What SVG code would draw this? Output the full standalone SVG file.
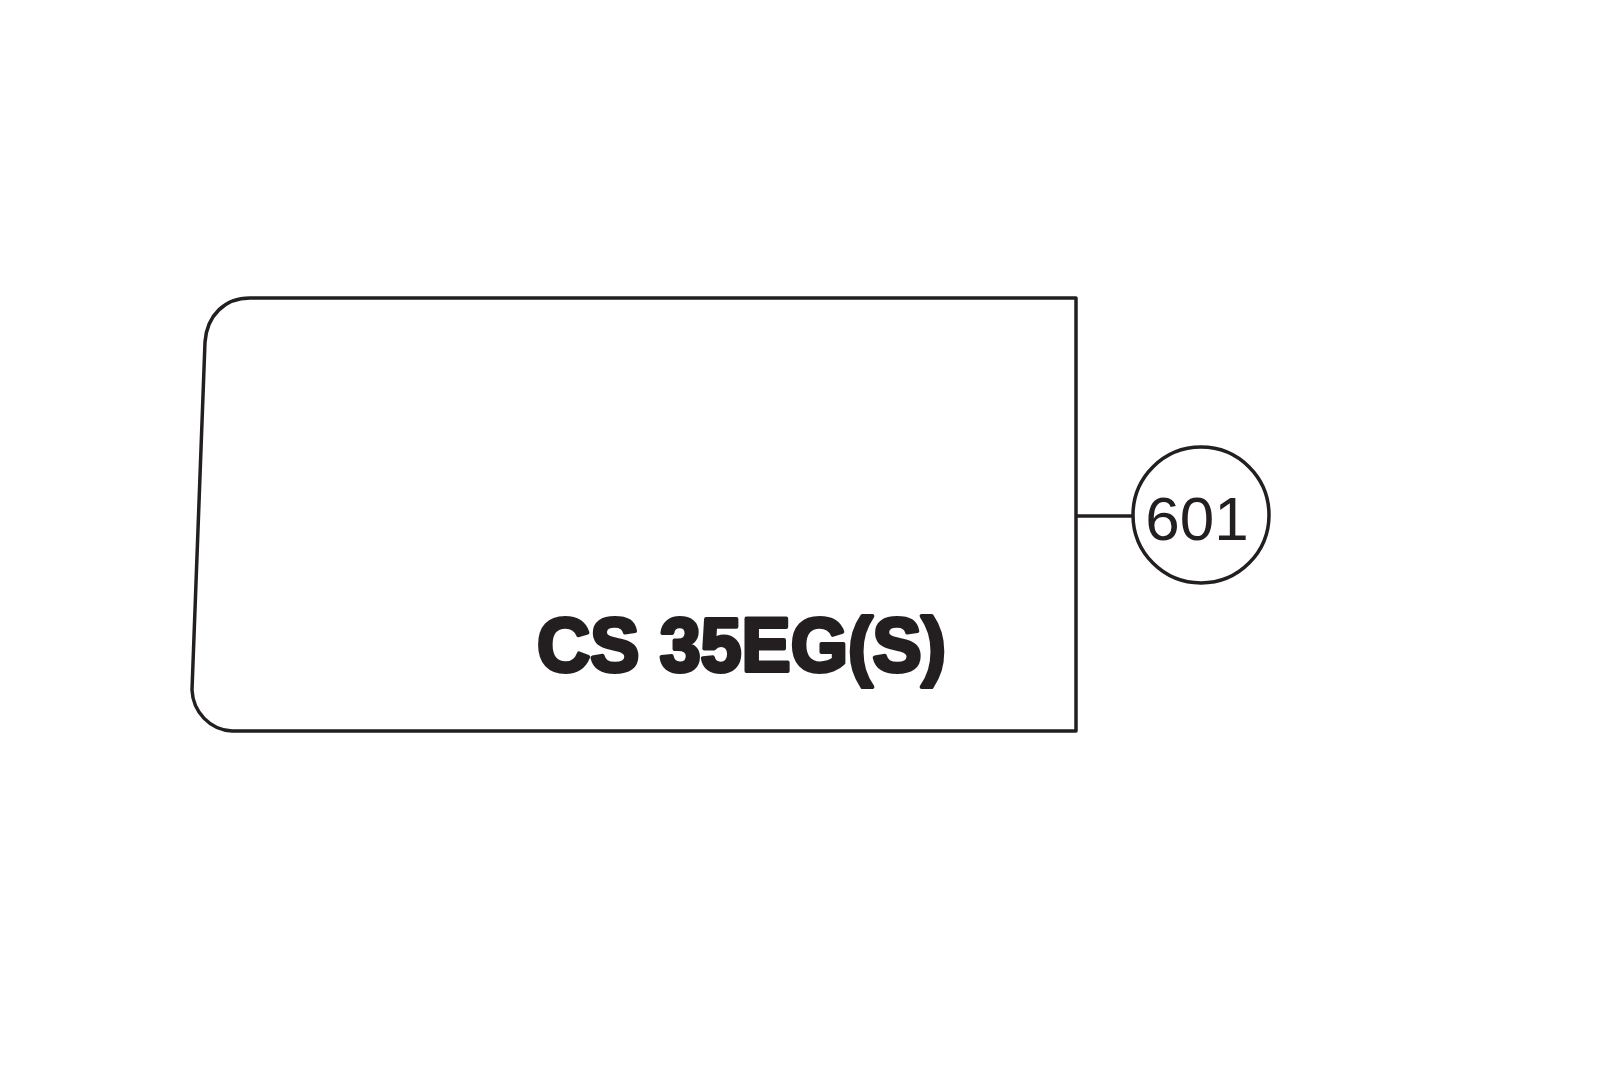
<svg xmlns="http://www.w3.org/2000/svg" width="1600" height="1084" viewBox="0 0 1600 1084">
<style>
.line{fill:none;stroke:#231f20;stroke-width:3.5;stroke-linejoin:round}
.model{font-family:"Liberation Sans",Arial,sans-serif;font-weight:bold;font-size:76px;fill:#231f20;stroke:#231f20;stroke-width:4;stroke-linejoin:round}
.num{font-family:"Liberation Sans",Arial,sans-serif;font-size:62px;fill:#231f20}
</style>
<rect width="1600" height="1084" fill="#ffffff"/>
<g id="label">
<path class="line" d="M 1076 298 L 1076 731 L 232 731 C 210 730 193 712 192 690 L 205 342 C 207 315 225 298 250 298 Z"/>
<text class="model" x="537" y="671" textLength="409" lengthAdjust="spacingAndGlyphs">CS 35EG(S)</text>
</g>
<g id="connectors">
<line class="line" x1="1076" y1="516" x2="1132" y2="516"/>
</g>
<g id="callout-601">
<ellipse class="line" cx="1201" cy="515" rx="68" ry="68"/>
<text class="num" x="1197" y="540" text-anchor="middle">601</text>
</g>
</svg>
